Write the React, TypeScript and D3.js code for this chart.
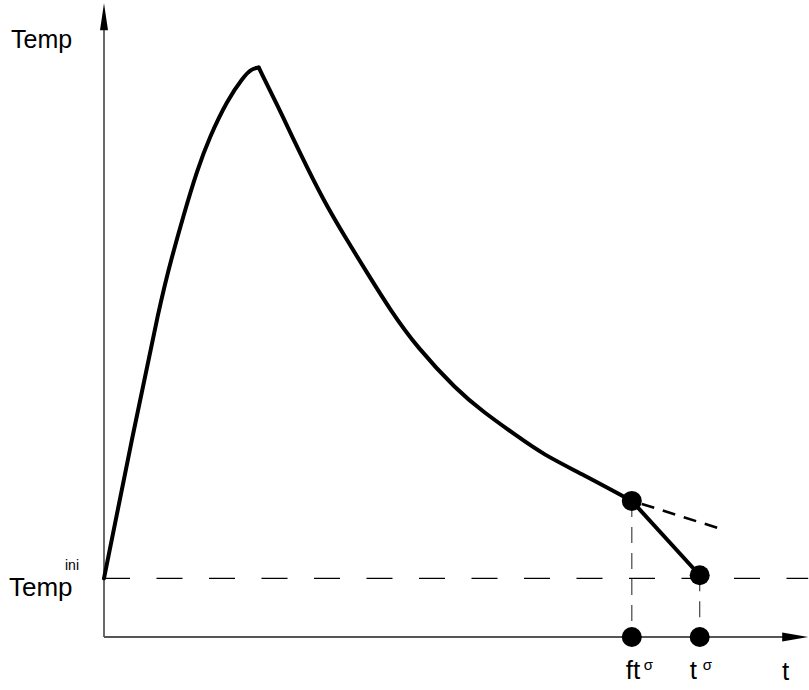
import React from 'react';
import * as d3 from 'd3';

// heating / cooling curve (t, Temp in arbitrary units)
const heatT = [0, 4.0, 8.1, 9.7, 11.3, 13.3, 15.1, 17.6, 19.9, 21.1, 22.1];
const heatTemp = [9.3, 31.5, 53.5, 60.3, 66.7, 74.1, 79.4, 85.2, 88.9, 90.2, 90.4];
const coolT = [22.1, 25.6, 28.0, 31.3, 34.7, 37.6, 40.9, 44.7, 50.4, 54.1, 59.0, 62.7, 68.4, 75.4];
const coolTemp = [90.4, 82.5, 76.8, 69.4, 63.0, 57.8, 51.9, 46.0, 39.2, 35.8, 31.9, 29.0, 25.8, 21.6];

const tempIni = 9.3;
const ftSigma = { t: 75.4, temp: 21.6 };
const tSigma = { t: 85.1, temp: 9.8 };
const tangentEnd = { t: 87.7, temp: 17.3 };
const axisEnd = 100.6;

const width = 809;
const height = 690;
const font = '"Liberation Sans", Arial, sans-serif';

const App: React.FC = () => {
  const x = d3.scaleLinear().domain([0, 100]).range([104, 804]);
  const y = d3.scaleLinear().domain([0, 100]).range([637, 7]);

  const heat = heatT.map((t, i) => [t, heatTemp[i]] as [number, number]);
  const cool = coolT.map((t, i) => [t, coolTemp[i]] as [number, number]);
  const curve = d3
    .line<[number, number]>()
    .x(d => x(d[0]))
    .y(d => y(d[1]))
    .curve(d3.curveBasis);

  const x0 = x(0);
  const y0 = y(0);
  const xTip = x(axisEnd);
  const yTip = y(axisEnd);

  return (
    <div style={{ position: 'absolute', left: 0, top: 0 }}>
      <svg width={width} height={height} style={{ display: 'block', background: '#fff' }}>
        {/* axes */}
        <line x1={x0} y1={y0} x2={x0} y2={yTip + 20} stroke="#444" strokeWidth={1.6} />
        <polygon points={`${x0},${yTip} ${x0 - 4},${yTip + 27} ${x0 + 4},${yTip + 27}`} fill="#000" />
        <line x1={x0} y1={y0} x2={xTip - 20} y2={y0} stroke="#555" strokeWidth={2} />
        <polygon points={`${xTip},${y0} ${xTip - 26},${y0 - 4.5} ${xTip - 26},${y0 + 4.5}`} fill="#000" />

        {/* Temp ini reference line */}
        <line x1={x0} y1={y(tempIni)} x2={xTip} y2={y(tempIni)} stroke="#000" strokeWidth={1.3} strokeDasharray="26,26.5" />

        {/* drop lines */}
        <line x1={x(ftSigma.t)} y1={y(ftSigma.temp)} x2={x(ftSigma.t)} y2={y0} stroke="#444" strokeWidth={1.2} strokeDasharray="16,10" />
        <line x1={x(tSigma.t)} y1={y(tSigma.temp)} x2={x(tSigma.t)} y2={y0} stroke="#444" strokeWidth={1.2} strokeDasharray="16,10" />

        {/* extrapolated cooling */}
        <line x1={x(ftSigma.t) + 10} y1={y(ftSigma.temp) + 3} x2={x(tangentEnd.t)} y2={y(tangentEnd.temp)} stroke="#000" strokeWidth={2.6} strokeDasharray="13,9" />

        {/* main curve */}
        <path d={curve(heat) || ''} fill="none" stroke="#000" strokeWidth={4} strokeLinecap="round" />
        <path d={curve(cool) || ''} fill="none" stroke="#000" strokeWidth={4} strokeLinecap="round" />
        <line x1={x(ftSigma.t)} y1={y(ftSigma.temp)} x2={x(tSigma.t)} y2={y(tSigma.temp)} stroke="#000" strokeWidth={4} />

        {/* markers */}
        <circle cx={x(ftSigma.t)} cy={y(ftSigma.temp)} r={10} fill="#000" />
        <circle cx={x(tSigma.t)} cy={y(tSigma.temp)} r={10} fill="#000" />
        <circle cx={x(ftSigma.t)} cy={y0} r={10} fill="#000" />
        <circle cx={x(tSigma.t)} cy={y0} r={10} fill="#000" />

        {/* labels */}
        <g fontFamily={font} fill="#000">
          <text x={11} y={48} fontSize={25}>Temp</text>
          <text x={9} y={596} fontSize={26}>Temp</text>
          <text x={65} y={570} fontSize={14}>ini</text>
          <text x={x(ftSigma.t) - 6} y={679} fontSize={26}>ft</text>
          <text x={x(ftSigma.t) + 12} y={670} fontSize={15}>σ</text>
          <text x={x(tSigma.t) - 10} y={679} fontSize={26}>t</text>
          <text x={x(tSigma.t) + 3} y={670} fontSize={15}>σ</text>
          <text x={782} y={680} fontSize={26}>t</text>
        </g>
      </svg>
    </div>
  );
};

export default App;
